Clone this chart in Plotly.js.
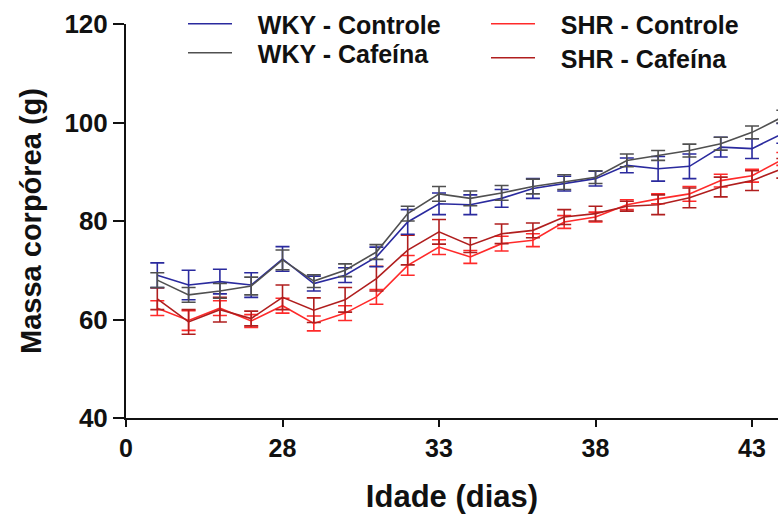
<!DOCTYPE html>
<html>
<head>
<meta charset="utf-8">
<script src="https://cdn.plot.ly/plotly-3.0.1.min.js"></script>
<style>html,body{margin:0;padding:0;background:#fff;}#chart{width:778px;height:514px;}</style>
</head>
<body>
<div id="chart"></div>
<script>
const days = [24,25,26,27,28,29,30,31,32,33,34,35,36,37,38,39,40,41,42,43,44];
const wkyControle = [69.0,67.0,67.7,67.0,72.3,67.3,69.0,72.7,79.8,83.5,83.3,84.6,86.6,87.6,88.6,91.3,90.6,91.1,95.0,94.7,97.8];
const wkyControleErr = [2.5,3.0,2.5,2.5,2.5,1.5,1.5,2.0,2.5,2.2,2.0,1.8,2.0,1.5,1.5,1.5,2.5,2.5,2.0,2.0,2.0];
const wkyCafeina = [68.0,65.0,65.8,66.8,72.1,67.8,70.0,73.7,81.5,85.5,84.6,85.7,87.0,87.9,88.9,92.3,93.3,94.3,95.7,98.0,101.2];
const wkyCafeinaErr = [1.5,1.5,1.5,1.8,2.0,1.3,1.3,1.5,1.5,1.5,1.5,1.5,1.5,1.5,1.3,1.3,1.0,1.3,1.3,1.3,1.3];
const shrControle = [62.3,59.8,62.3,59.7,62.8,59.2,61.3,64.6,71.0,74.7,72.7,75.4,76.1,79.8,80.8,83.3,84.5,85.5,88.2,89.2,92.6];
const shrControleErr = [1.5,2.0,1.5,1.3,1.5,1.5,1.5,1.5,2.0,1.5,1.3,1.5,1.3,1.3,1.0,1.0,1.0,1.5,1.3,1.3,1.3];
const shrCafeina = [64.2,59.5,62.0,60.2,64.5,61.9,64.0,68.3,74.1,77.8,75.1,77.4,78.1,80.8,81.5,83.0,83.3,84.7,86.9,88.2,90.7];
const shrCafeinaErr = [2.2,2.5,2.5,1.5,2.5,2.5,2.5,2.5,3.0,2.5,1.5,2.0,1.5,1.5,1.5,1.0,2.0,2.0,2.0,2.0,2.0];
const xTickVals = [23,28,33,38,43];
const xTickText = ["0","28","33","38","43"];
const yTickVals = [40,60,80,100,120];
const seriesNames = ["WKY - Controle","WKY - Cafeína","SHR - Controle","SHR - Cafeína"];
const seriesColors = ["#2a2a9e","#505050","#ff2a2a","#b01e1e"];

const FONT = "Liberation Sans, Arial, sans-serif";
const PAD = "\u00a0\u00a0\u00a0";
function mk(y, err, idx, legendId) {
  return {
    x: days, y: y, type: "scatter", mode: "lines",
    name: PAD + seriesNames[idx], legend: legendId,
    line: {color: seriesColors[idx], width: 1.6},
    error_y: {type: "data", array: err, visible: true, color: seriesColors[idx], thickness: 1.6, width: 7},
    cliponaxis: true
  };
}
const traces = [
  mk(shrControle, shrControleErr, 2, "legend3"),
  mk(shrCafeina, shrCafeinaErr, 3, "legend4"),
  mk(wkyControle, wkyControleErr, 0, "legend"),
  mk(wkyCafeina, wkyCafeinaErr, 1, "legend2")
];
// plot area: x 126..778, y 24..418
function leg(xpx, ypx) {
  return {xref: "paper", yref: "paper", x: (xpx - 126) / 652, y: (418 - ypx) / 394, xanchor: "left", yanchor: "middle",
    font: {family: FONT, size: 25, color: "#111", weight: "bold"}, bgcolor: "rgba(0,0,0,0)", itemwidth: 44, borderwidth: 0};
}
const layout = {
  width: 778, height: 514,
  margin: {l: 126, r: 0, t: 24, b: 96, autoexpand: false},
  paper_bgcolor: "#fff", plot_bgcolor: "#fff",
  font: {family: FONT, color: "#111"},
  showlegend: true,
  legend: leg(183, 24),
  legend2: leg(183, 53),
  legend3: leg(486, 24),
  legend4: leg(486, 58),
  xaxis: {
    range: [23, 43.83], tickmode: "array", tickvals: xTickVals, ticktext: xTickText,
    showline: true, linecolor: "#111", linewidth: 2, ticks: "outside", ticklen: 7, tickwidth: 2, tickcolor: "#111",
    showgrid: false, zeroline: false, automargin: false,
    tickfont: {family: FONT, size: 25, color: "#111", weight: "bold"},
    title: {text: "<b>Idade (dias)</b>", font: {family: FONT, size: 31, color: "#111"}, standoff: 24}
  },
  yaxis: {
    range: [40, 120], tickmode: "array", tickvals: yTickVals,
    showline: true, linecolor: "#111", linewidth: 2, ticks: "outside", ticklen: 11, tickwidth: 2, tickcolor: "#111",
    showgrid: false, zeroline: false, automargin: false,
    tickfont: {family: FONT, size: 26, color: "#111", weight: "bold"},
    title: {text: "<b>Massa corpórea (g)</b>", font: {family: FONT, size: 29, color: "#111"}, standoff: 14}
  }
};
Plotly.newPlot("chart", traces, layout, {displayModeBar: false, staticPlot: true});
</script>
</body>
</html>
